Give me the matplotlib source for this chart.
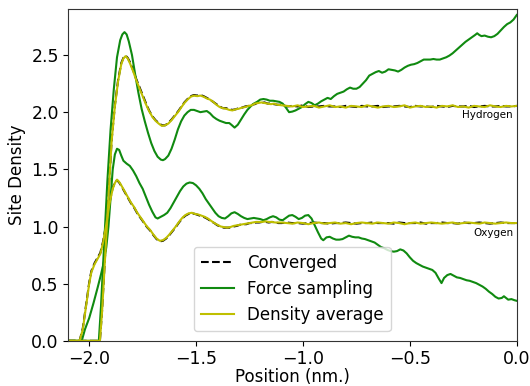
import matplotlib
matplotlib.use("Agg")
import matplotlib.pyplot as plt

# ---- Hydrogen site density -------------------------------------------------
H_tail_x = [-1.100, -1.075, -1.050, -1.025, -1.000, -0.975, -0.950, -0.925, -0.900,
            -0.875, -0.850, -0.825, -0.800, -0.775, -0.750, -0.725, -0.700, -0.675,
            -0.650, -0.625, -0.600, -0.575, -0.550, -0.525, -0.500, -0.475, -0.450,
            -0.425, -0.400, -0.375, -0.350, -0.325, -0.300, -0.275, -0.250, -0.225,
            -0.200, -0.175, -0.150, -0.125, -0.100, -0.075, -0.050, -0.025, 0.000]

H_head_x = [-2.10, -1.95, -1.94, -1.925, -1.91, -1.895, -1.88, -1.865, -1.85, -1.84,
            -1.83, -1.82, -1.81, -1.795, -1.78, -1.765, -1.75, -1.735, -1.72, -1.705,
            -1.69, -1.675, -1.66, -1.645, -1.63, -1.615, -1.60, -1.585, -1.57, -1.555,
            -1.54, -1.525, -1.51, -1.495, -1.48, -1.465, -1.45, -1.435, -1.42, -1.405,
            -1.39, -1.375, -1.36, -1.345, -1.33, -1.315, -1.30, -1.285, -1.27, -1.255,
            -1.24, -1.225, -1.21, -1.195, -1.18, -1.165, -1.15, -1.135, -1.12]

H_avg_head = [0.0, 0.0, 0.25, 0.75, 1.25, 1.75, 2.05, 2.27, 2.42, 2.47,
              2.49, 2.47, 2.43, 2.36, 2.28, 2.21, 2.14, 2.07, 2.01, 1.96,
              1.925, 1.90, 1.88, 1.885, 1.90, 1.93, 1.965, 2.00, 2.04, 2.08,
              2.11, 2.135, 2.145, 2.14, 2.145, 2.135, 2.12, 2.11, 2.09, 2.065,
              2.045, 2.035, 2.03, 2.02, 2.015, 2.025, 2.03, 2.04, 2.045, 2.055,
              2.06, 2.075, 2.08, 2.085, 2.08, 2.075, 2.07, 2.075, 2.065]
H_avg_tail = [2.06, 2.055, 2.05, 2.06, 2.045, 2.05, 2.055, 2.04, 2.05, 2.06, 2.045,
              2.05, 2.04, 2.055, 2.05, 2.045, 2.06, 2.05, 2.04, 2.05, 2.055, 2.045,
              2.05, 2.06, 2.04, 2.05, 2.055, 2.045, 2.05, 2.04, 2.055, 2.05, 2.06,
              2.045, 2.05, 2.04, 2.055, 2.05, 2.045, 2.06, 2.05, 2.045, 2.055, 2.05, 2.055]

H_conv_head = [0.0, 0.0, 0.26, 0.77, 1.27, 1.76, 2.06, 2.28, 2.43, 2.475,
               2.495, 2.475, 2.44, 2.37, 2.29, 2.22, 2.15, 2.08, 2.015, 1.965,
               1.93, 1.905, 1.885, 1.885, 1.905, 1.935, 1.97, 2.005, 2.045, 2.085,
               2.115, 2.14, 2.15, 2.145, 2.15, 2.14, 2.125, 2.11, 2.09, 2.07,
               2.05, 2.035, 2.035, 2.025, 2.02, 2.025, 2.035, 2.04, 2.05, 2.055,
               2.065, 2.07, 2.085, 2.08, 2.085, 2.075, 2.075, 2.07, 2.065]
H_conv_tail = [2.065, 2.05, 2.055, 2.05, 2.06, 2.045, 2.05, 2.05, 2.055, 2.05, 2.05,
               2.045, 2.055, 2.05, 2.045, 2.055, 2.05, 2.05, 2.055, 2.045, 2.05, 2.05,
               2.055, 2.05, 2.045, 2.055, 2.05, 2.05, 2.045, 2.055, 2.05, 2.045, 2.055,
               2.05, 2.05, 2.055, 2.045, 2.05, 2.055, 2.05, 2.05, 2.055, 2.05, 2.05, 2.055]

H_force_x = [-2.10, -1.955, -1.945, -1.93, -1.915, -1.90, -1.885, -1.87, -1.855, -1.845,
             -1.835, -1.825, -1.815, -1.80, -1.785, -1.77, -1.755, -1.74, -1.725, -1.71,
             -1.695, -1.68, -1.665, -1.655, -1.645, -1.63, -1.615, -1.60, -1.585, -1.57,
             -1.555, -1.54, -1.525, -1.51, -1.495, -1.48, -1.465, -1.45, -1.435, -1.42,
             -1.405, -1.39, -1.375, -1.36, -1.345, -1.335, -1.32, -1.305, -1.29, -1.275,
             -1.26, -1.245, -1.23, -1.215, -1.20, -1.185, -1.17, -1.155, -1.14, -1.125,
             -1.11, -1.095, -1.08, -1.065, -1.05, -1.035, -1.02, -1.005, -0.99, -0.975,
             -0.96, -0.945, -0.93, -0.915, -0.90, -0.885, -0.87, -0.855, -0.84, -0.825,
             -0.81, -0.795, -0.78, -0.765, -0.75, -0.735, -0.72, -0.705, -0.69, -0.675,
             -0.66, -0.645, -0.63, -0.615, -0.60, -0.585, -0.57, -0.555, -0.54, -0.525,
             -0.51, -0.495, -0.48, -0.465, -0.45, -0.435, -0.42, -0.405, -0.39, -0.375,
             -0.36, -0.345, -0.33, -0.315, -0.30, -0.285, -0.27, -0.255, -0.24, -0.225,
             -0.21, -0.195, -0.185, -0.175, -0.165, -0.15, -0.135, -0.12, -0.105, -0.09,
             -0.075, -0.06, -0.045, -0.03, -0.015, 0.0]
H_force_y = [0.0, 0.0, 0.3, 0.85, 1.4, 1.85, 2.2, 2.48, 2.63, 2.68,
             2.70, 2.68, 2.62, 2.50, 2.33, 2.17, 2.03, 1.92, 1.82, 1.73,
             1.66, 1.61, 1.585, 1.58, 1.59, 1.62, 1.68, 1.76, 1.85, 1.92,
             1.97, 2.00, 2.02, 2.02, 2.01, 2.00, 2.005, 2.01, 1.99, 1.96,
             1.94, 1.925, 1.915, 1.905, 1.905, 1.89, 1.865, 1.89, 1.935, 1.98,
             2.02, 2.05, 2.075, 2.09, 2.11, 2.115, 2.11, 2.10, 2.10, 2.095,
             2.09, 2.075, 2.04, 2.00, 2.005, 2.015, 2.03, 2.045, 2.07, 2.09,
             2.08, 2.06, 2.075, 2.095, 2.11, 2.125, 2.115, 2.14, 2.16, 2.17,
             2.18, 2.20, 2.215, 2.205, 2.205, 2.22, 2.25, 2.28, 2.32, 2.335,
             2.35, 2.36, 2.345, 2.355, 2.375, 2.37, 2.365, 2.355, 2.37, 2.39,
             2.405, 2.415, 2.42, 2.43, 2.445, 2.46, 2.46, 2.46, 2.465, 2.46,
             2.46, 2.47, 2.48, 2.495, 2.515, 2.54, 2.565, 2.59, 2.615, 2.635,
             2.655, 2.675, 2.69, 2.675, 2.665, 2.67, 2.66, 2.655, 2.665, 2.685,
             2.715, 2.745, 2.77, 2.785, 2.81, 2.85]

# ---- Oxygen site density ---------------------------------------------------
O_head_x = [-2.10, -2.045, -2.03, -2.015, -2.00, -1.99, -1.975, -1.96, -1.948, -1.935,
            -1.92, -1.905, -1.89, -1.88, -1.87, -1.86, -1.85, -1.835, -1.82, -1.805,
            -1.79, -1.775, -1.76, -1.745, -1.73, -1.715, -1.70, -1.685, -1.67, -1.655,
            -1.64, -1.625, -1.61, -1.595, -1.58, -1.565, -1.55, -1.535, -1.52, -1.505,
            -1.49, -1.475, -1.46, -1.445, -1.43, -1.415, -1.40, -1.385, -1.37, -1.355,
            -1.34, -1.325, -1.31, -1.295, -1.28, -1.265, -1.25, -1.235, -1.22, -1.205,
            -1.19, -1.175, -1.16, -1.145, -1.13, -1.115]

O_avg_head = [0.0, 0.0, 0.1, 0.3, 0.5, 0.6, 0.67, 0.72, 0.76, 0.86,
              1.02, 1.20, 1.33, 1.38, 1.41, 1.39, 1.36, 1.31, 1.26, 1.21,
              1.17, 1.12, 1.08, 1.04, 1.00, 0.97, 0.93, 0.895, 0.875, 0.88,
              0.90, 0.93, 0.965, 1.00, 1.04, 1.075, 1.10, 1.115, 1.12, 1.11,
              1.105, 1.095, 1.085, 1.07, 1.05, 1.03, 1.015, 1.00, 0.995, 0.99,
              0.995, 1.005, 1.01, 1.015, 1.02, 1.025, 1.03, 1.035, 1.04, 1.04,
              1.04, 1.045, 1.04, 1.04, 1.035, 1.035]
O_avg_tail = [1.035, 1.03, 1.025, 1.035, 1.03, 1.02, 1.03, 1.035, 1.025, 1.03, 1.035,
              1.025, 1.03, 1.02, 1.03, 1.035, 1.03, 1.025, 1.035, 1.03, 1.025, 1.035,
              1.03, 1.02, 1.03, 1.035, 1.025, 1.03, 1.035, 1.03, 1.025, 1.03, 1.035,
              1.025, 1.03, 1.035, 1.03, 1.025, 1.035, 1.03, 1.025, 1.03, 1.035, 1.03, 1.03]

O_conv_head = [0.0, 0.0, 0.11, 0.31, 0.51, 0.61, 0.68, 0.73, 0.77, 0.87,
               1.03, 1.21, 1.34, 1.385, 1.405, 1.385, 1.355, 1.305, 1.255, 1.205,
               1.165, 1.115, 1.075, 1.035, 0.995, 0.965, 0.925, 0.89, 0.87, 0.875,
               0.895, 0.925, 0.96, 0.995, 1.035, 1.07, 1.095, 1.11, 1.115, 1.11,
               1.10, 1.09, 1.08, 1.065, 1.045, 1.03, 1.01, 1.00, 0.99, 0.99,
               0.99, 1.00, 1.005, 1.015, 1.02, 1.02, 1.03, 1.03, 1.035, 1.035,
               1.04, 1.04, 1.035, 1.04, 1.035, 1.03]
O_conv_tail = [1.03, 1.035, 1.03, 1.03, 1.025, 1.03, 1.035, 1.03, 1.03, 1.025, 1.03,
               1.03, 1.035, 1.03, 1.025, 1.03, 1.03, 1.035, 1.03, 1.03, 1.03, 1.025,
               1.035, 1.03, 1.03, 1.03, 1.035, 1.025, 1.03, 1.03, 1.035, 1.03, 1.03,
               1.025, 1.035, 1.03, 1.03, 1.035, 1.03, 1.025, 1.03, 1.035, 1.03, 1.03, 1.03]

O_force_x = [-2.10, -2.035, -2.02, -2.00, -1.98, -1.96, -1.945, -1.93, -1.92, -1.91,
             -1.90, -1.89, -1.88, -1.87, -1.86, -1.85, -1.84, -1.825, -1.81, -1.795,
             -1.78, -1.765, -1.75, -1.735, -1.72, -1.705, -1.69, -1.68, -1.665, -1.65,
             -1.635, -1.62, -1.605, -1.59, -1.575, -1.56, -1.545, -1.53, -1.515, -1.50,
             -1.485, -1.47, -1.455, -1.44, -1.425, -1.41, -1.395, -1.38, -1.365, -1.35,
             -1.335, -1.32, -1.305, -1.29, -1.275, -1.26, -1.245, -1.23, -1.215, -1.20,
             -1.185, -1.17, -1.155, -1.14, -1.125, -1.11, -1.095, -1.08, -1.065, -1.05,
             -1.035, -1.02, -1.005, -0.99, -0.975, -0.96, -0.945, -0.93, -0.915, -0.905,
             -0.89, -0.875, -0.86, -0.845, -0.83, -0.815, -0.80, -0.785, -0.77, -0.755,
             -0.74, -0.725, -0.71, -0.695, -0.68, -0.665, -0.65, -0.635, -0.62, -0.605,
             -0.59, -0.575, -0.56, -0.545, -0.53, -0.515, -0.50, -0.485, -0.47, -0.455,
             -0.44, -0.425, -0.41, -0.395, -0.38, -0.365, -0.352, -0.34, -0.325, -0.31,
             -0.295, -0.28, -0.265, -0.25, -0.235, -0.22, -0.205, -0.19, -0.175, -0.16,
             -0.145, -0.13, -0.115, -0.10, -0.085, -0.07, -0.06, -0.05, -0.04, -0.025,
             -0.01, 0.0]
O_force_y = [0.0, 0.0, 0.1, 0.2, 0.33, 0.47, 0.58, 0.70, 0.82, 1.00,
             1.25, 1.50, 1.63, 1.68, 1.67, 1.62, 1.575, 1.55, 1.53, 1.49,
             1.44, 1.38, 1.33, 1.26, 1.19, 1.13, 1.08, 1.07, 1.085, 1.10,
             1.12, 1.16, 1.21, 1.26, 1.31, 1.35, 1.375, 1.385, 1.38, 1.36,
             1.33, 1.29, 1.24, 1.20, 1.16, 1.12, 1.09, 1.075, 1.07, 1.09,
             1.115, 1.125, 1.11, 1.09, 1.075, 1.065, 1.07, 1.075, 1.07, 1.065,
             1.055, 1.065, 1.08, 1.09, 1.08, 1.06, 1.055, 1.075, 1.095, 1.10,
             1.085, 1.065, 1.075, 1.095, 1.10, 1.07, 1.01, 0.95, 0.895, 0.88,
             0.905, 0.91, 0.895, 0.885, 0.885, 0.89, 0.905, 0.92, 0.91, 0.905,
             0.905, 0.895, 0.89, 0.88, 0.87, 0.86, 0.84, 0.82, 0.81, 0.795,
             0.785, 0.78, 0.785, 0.80, 0.79, 0.765, 0.73, 0.70, 0.68, 0.665,
             0.65, 0.64, 0.63, 0.62, 0.595, 0.545, 0.505, 0.55, 0.575, 0.585,
             0.57, 0.555, 0.55, 0.54, 0.53, 0.525, 0.515, 0.505, 0.49, 0.475,
             0.455, 0.43, 0.41, 0.385, 0.37, 0.375, 0.39, 0.375, 0.36, 0.365,
             0.355, 0.35]

H_x = H_head_x + H_tail_x
O_x = O_head_x + H_tail_x
H_conv = H_conv_head + H_conv_tail
H_avg = H_avg_head + H_avg_tail
O_conv = O_conv_head + O_conv_tail
O_avg = O_avg_head + O_avg_tail

series_labels = ["Converged", "Force sampling", "Density average"]

plt.rcParams["font.family"] = "DejaVu Sans"
fig = plt.figure(figsize=(5.30, 3.86), dpi=100)
ax = fig.add_axes([0.128, 0.117, 0.847, 0.859])

lw = 1.5
green = "#108a10"
ax.plot(H_x, H_conv, "k--", lw=lw, label=series_labels[0])
ax.plot(O_x, O_conv, "k--", lw=lw)
ax.plot(H_force_x, H_force_y, color=green, lw=lw, label=series_labels[1])
ax.plot(O_force_x, O_force_y, color=green, lw=lw)
ax.plot(H_x, H_avg, color="y", lw=lw, label=series_labels[2])
ax.plot(O_x, O_avg, color="y", lw=lw)

ax.text(-0.02, 2.015, "Hydrogen", fontsize=7.5, ha="right", va="top")
ax.text(-0.015, 0.99, "Oxygen", fontsize=7.5, ha="right", va="top")

ax.set_xlim(-2.1, 0.0)
ax.set_ylim(0.0, 2.9)
ax.set_xticks([-2.0, -1.5, -1.0, -0.5, 0.0])
ax.set_yticks([0.0, 0.5, 1.0, 1.5, 2.0, 2.5])
ax.tick_params(labelsize=12.5, pad=3)
ax.set_xlabel("Position (nm.)", fontsize=12, labelpad=0)
ax.set_ylabel("Site Density", fontsize=12, labelpad=4)
for s in ax.spines.values():
    s.set_color("#333333")

ax.legend(loc="lower center", fontsize=12, bbox_to_anchor=(0.5, 0.0),
          borderaxespad=0.6)

fig.savefig("out.png", dpi=100)
